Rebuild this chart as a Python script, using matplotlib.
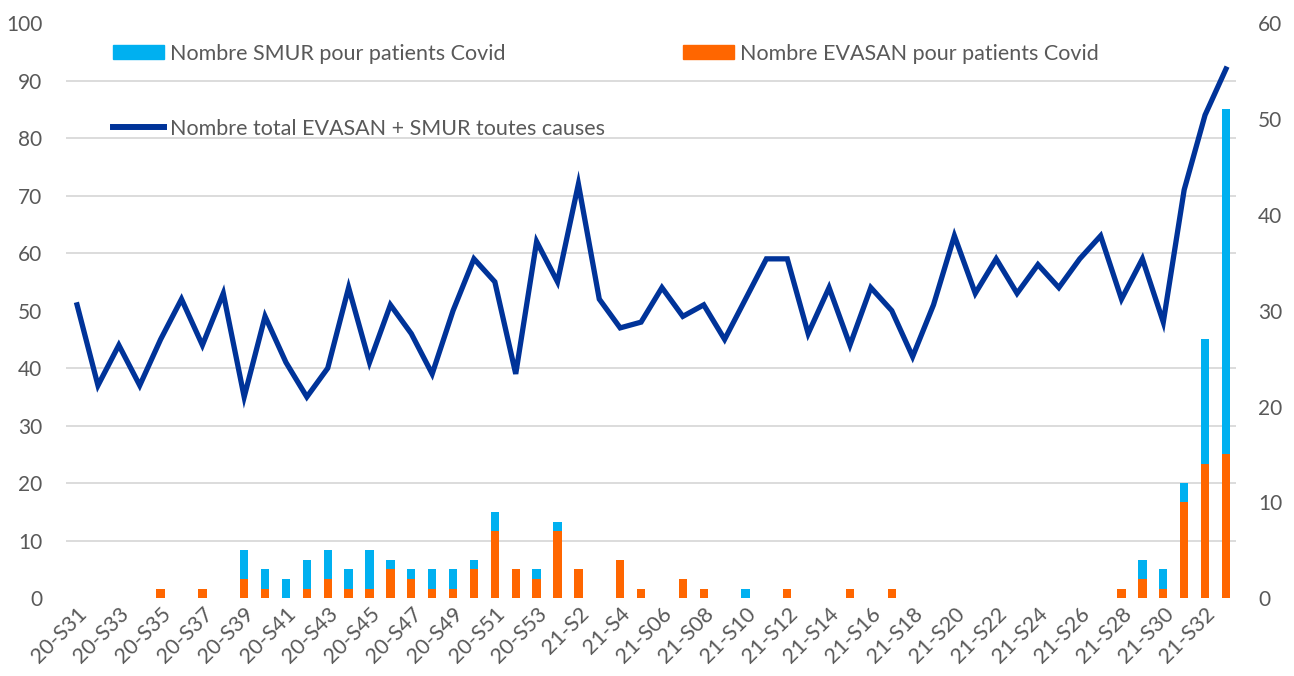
import numpy as np
import matplotlib
matplotlib.use('Agg')
import matplotlib.pyplot as plt
from matplotlib.lines import Line2D
from matplotlib.patches import Patch

plt.rcParams['font.family'] = ['Lato', 'DejaVu Sans']

# semaines
weeks_2020 = [f"20-S{n}" for n in range(31, 54)]
weeks_2021 = [f"21-S{n}" if n < 6 else f"21-S{n:02d}" for n in range(1, 34)]
weeks = weeks_2020 + weeks_2021

# total EVASAN + SMUR toutes causes (axe gauche)
total = [51, 37, 44, 37, 45, 52, 44, 53, 35, 49, 41, 35, 40, 54, 41, 51, 46, 39, 50, 59,
         55, 39, 62, 55, 72, 52, 47, 48, 54, 49, 51, 45, 52, 59, 59, 46, 54, 44, 54, 50,
         42, 51, 63, 53, 59, 53, 58, 54, 59, 63, 52, 59, 48, 71, 84, 92]

# EVASAN Covid (axe droit)
evasan = [0, 0, 0, 0, 1, 0, 1, 0, 2, 1, 0, 1, 2, 1, 1, 3, 2, 1, 1, 3,
          7, 3, 2, 7, 3, 0, 4, 1, 0, 2, 1, 0, 0, 0, 1, 0, 0, 1, 0, 1,
          0, 0, 0, 0, 0, 0, 0, 0, 0, 0, 1, 2, 1, 10, 14, 15]

# SMUR Covid (axe droit)
smur = [0, 0, 0, 0, 0, 0, 0, 0, 3, 2, 2, 3, 3, 2, 4, 1, 1, 2, 2, 1,
        2, 0, 1, 1, 0, 0, 0, 0, 0, 0, 0, 0, 1, 0, 0, 0, 0, 0, 0, 0,
        0, 0, 0, 0, 0, 0, 0, 0, 0, 0, 0, 2, 2, 2, 13, 36]

x = np.arange(len(weeks))
gray = '#595959'

fig = plt.figure(figsize=(12.94, 6.76), dpi=100)
ax = fig.add_axes([0.051, 0.115, 0.904, 0.851])
ax2 = ax.twinx()
ax2.set_zorder(0)
ax.set_zorder(1)
ax.patch.set_visible(False)

# barres empilées sur l'axe de droite
ax2.bar(x, evasan, width=0.4, color='#FF6600', zorder=2)
ax2.bar(x, smur, width=0.4, bottom=evasan, color='#00B0F0', zorder=2)
ax2.set_ylim(0, 60)
ax2.set_yticks(np.arange(0, 61, 10))
# quadrillage aligné sur l'axe de gauche (pas de 10 -> 6 à droite)
ax2.set_yticks(np.arange(0, 61, 6), minor=True)
ax2.grid(True, which='minor', axis='y', color='#d9d9d9', linewidth=1.3)
ax2.set_axisbelow(True)
ax2.tick_params(axis='y', which='both', length=0, labelsize=15, labelcolor=gray, pad=16)

# courbe sur l'axe de gauche
ax.plot(x, total, color='#003399', linewidth=3.8, solid_joinstyle='miter', zorder=3)
ax.set_ylim(0, 100)
ax.set_yticks(np.arange(0, 101, 10))
ax.tick_params(axis='y', length=0, labelsize=15, labelcolor=gray, pad=17)

ax.set_xlim(-0.53, len(weeks) - 0.53)
ax.set_xticks(x[::2])
ax.set_xticklabels(weeks[::2], rotation=45, ha='right', rotation_mode='anchor',
                   fontsize=15.5, color=gray)
ax.tick_params(axis='x', length=0, pad=4)

for a in (ax, ax2):
    for s in a.spines.values():
        s.set_visible(False)

handles = [Patch(color='#00B0F0'),
           Line2D([], [], color='#003399', linewidth=4.3),
           Patch(color='#FF6600')]
labels = ['Nombre SMUR pour patients Covid',
          'Nombre total EVASAN + SMUR toutes causes',
          'Nombre EVASAN pour patients Covid']
ax.legend(handles, labels, ncol=2, loc='upper left', bbox_to_anchor=(0.072, 0.964),
          bbox_transform=fig.transFigure, frameon=False, fontsize=15.5, labelcolor=gray,
          handlelength=2.4, handleheight=0.65, handletextpad=0.28, labelspacing=2.55,
          columnspacing=3.6)

fig.savefig('out.png', dpi=100)
